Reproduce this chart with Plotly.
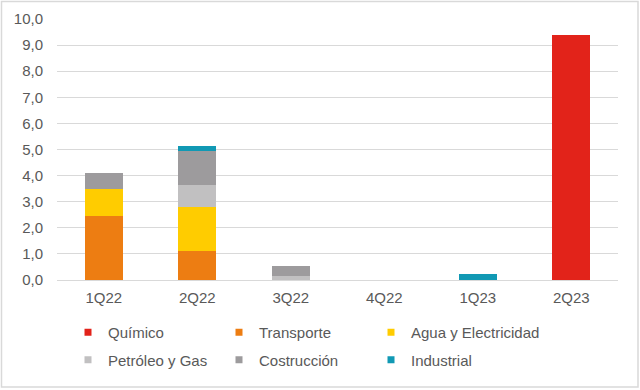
import plotly.graph_objects as go

categories = ["1Q22", "2Q22", "3Q22", "4Q22", "1Q23", "2Q23"]
quimico = [0, 0, 0, 0, 0, 9.40]
transporte = [2.46, 1.13, 0, 0, 0, 0]
agua = [1.03, 1.68, 0, 0, 0, 0]
petroleo = [0, 0.82, 0.16, 0, 0, 0]
costruccion = [0.60, 1.33, 0.37, 0, 0, 0]
industrial = [0, 0.16, 0, 0, 0.22, 0]
y_ticks = [0, 1, 2, 3, 4, 5, 6, 7, 8, 9, 10]

series_names = ["Químico", "Transporte", "Agua y Electricidad",
                "Petróleo y Gas", "Costrucción", "Industrial"]
series_vals = [quimico, transporte, agua, petroleo, costruccion, industrial]
series_colors = ["#E2231A", "#ED7D12", "#FFCC00", "#C1C0C1", "#9D9B9D", "#1199B4"]

W, H = 640, 390
L, R, T, B = 57, 22, 19, 110
pw, ph = W - L - R, H - T - B

# legend entry positions (text start x, row center y) in pixels
leg_text_x = [108, 259, 411, 108, 259, 411]
leg_row_y = [332.5, 332.5, 332.5, 360, 360, 360]

font_col = "#595959"
FONT = "Arial, Liberation Sans, sans-serif"

fig = go.Figure()
for name, vals, col in zip(series_names, series_vals, series_colors):
    fig.add_trace(go.Bar(x=categories, y=vals, name=name, marker_color=col,
                         marker_line_width=0, showlegend=False))

legends = {}
for i, (name, col) in enumerate(zip(series_names, series_colors)):
    lid = "legend" if i == 0 else f"legend{i + 1}"
    fig.add_trace(go.Scatter(x=[None], y=[None], mode="markers", name=name,
                             marker=dict(symbol="square", size=7, color=col),
                             legend=lid, showlegend=True))
    legends[lid] = dict(orientation="v", xref="container", yref="container",
                        x=(leg_text_x[i] - 40) / W, y=1 - leg_row_y[i] / H,
                        xanchor="left", yanchor="middle",
                        font=dict(family=FONT, size=15, color=font_col),
                        itemwidth=30, bgcolor="rgba(0,0,0,0)")

fig.update_layout(
    width=W, height=H,
    margin=dict(l=L, r=R, t=T, b=B, autoexpand=False),
    paper_bgcolor="white", plot_bgcolor="white",
    barmode="stack", bargap=0.59,
    separators=",.",
    font=dict(family=FONT, size=15, color=font_col),
    xaxis=dict(showgrid=False, showline=False, ticks="", ticklabelstandoff=7,
               tickfont=dict(size=15, color=font_col)),
    yaxis=dict(range=[0, 10], tickvals=y_ticks, tickformat=".1f",
               showgrid=True, gridcolor="#D9D9D9", gridwidth=1.3,
               zeroline=True, zerolinecolor="#D9D9D9", zerolinewidth=1.3,
               showline=False, ticks="", ticklabelstandoff=13,
               tickfont=dict(size=15, color=font_col)),
    shapes=[dict(type="rect", xref="paper", yref="paper",
                 x0=(1.5 - L) / pw, x1=(638 - L) / pw,
                 y0=1 - (387 - T) / ph, y1=1 - (1.5 - T) / ph,
                 line=dict(color="#D9D9D9", width=1.5), fillcolor="rgba(0,0,0,0)",
                 layer="below")],
    **legends,
)

fig.write_html("out.html", config={"displayModeBar": False},
               post_script="document.body.style.margin='0';")
